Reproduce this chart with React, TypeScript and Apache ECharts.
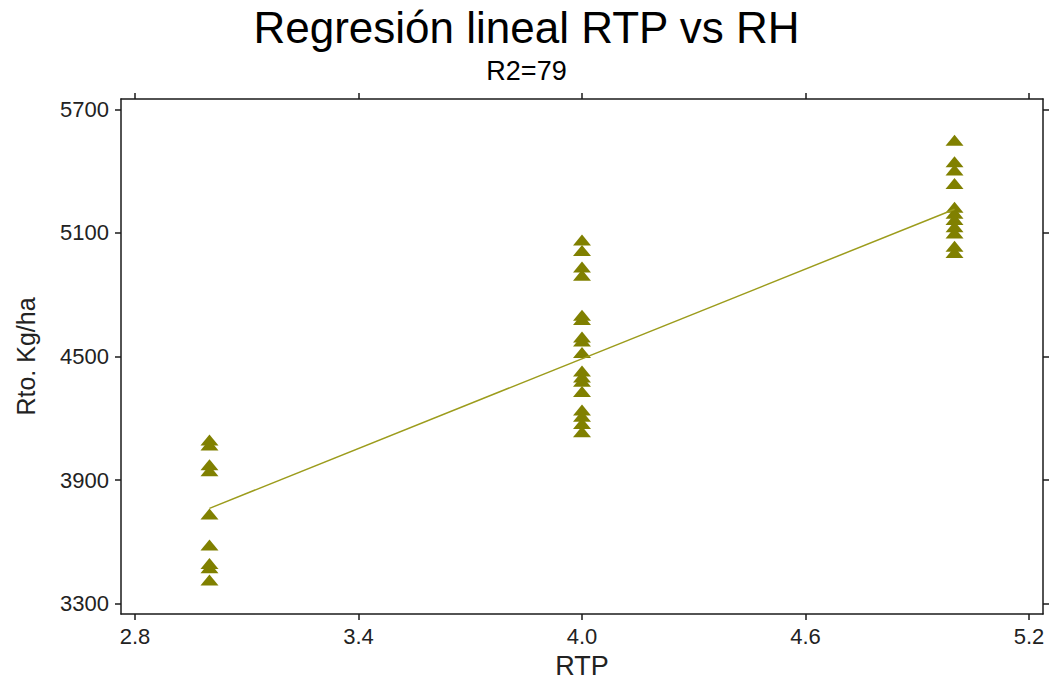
import React, { useEffect, useRef } from "react";
import * as echarts from "echarts";

const titleText = "Regresión lineal RTP vs RH";
const subtitleText = "R2=79";
const xName = "RTP";
const yName = "Rto. Kg/ha";

const xTicks = [2.8, 3.4, 4.0, 4.6, 5.2];
const yTicks = [3300, 3900, 4500, 5100, 5700];

// observed yields per RTP level
const rtpLevels = [3, 4, 5];
const yieldAt3 = [4095, 4070, 3975, 3945, 3735, 3585, 3495, 3475, 3415];
const yieldAt4 = [5065, 5015, 4935, 4895, 4700, 4680, 4595, 4575, 4520, 4430, 4400, 4380, 4330, 4240, 4210, 4175, 4135];
const yieldAt5 = [5550, 5445, 5405, 5340, 5225, 5195, 5165, 5130, 5100, 5035, 5005];

// fitted regression line end points
const fitX = [3, 5];
const fitY = [3763, 5215];

const OLIVE = "#808000";
const AXIS = "#1a1a1a";
const FONT = "'Liberation Sans', Arial, sans-serif";

export default function App() {
  const ref = useRef<HTMLDivElement>(null);
  useEffect(() => {
    if (!ref.current) return;
    const chart = echarts.init(ref.current, undefined, { renderer: "svg" });
    const groups = [yieldAt3, yieldAt4, yieldAt5];
    const points: number[][] = [];
    groups.forEach((g, i) => g.forEach((v) => points.push([rtpLevels[i], v])));
    const fit = fitX.map((x, i) => [x, fitY[i]]);

    const axisLine = { show: true, lineStyle: { color: AXIS, width: 1.5 } };
    const tickStyle = { color: AXIS, width: 1.5 };

    chart.setOption({
      animation: false,
      backgroundColor: "#ffffff",
      title: [
        {
          text: titleText,
          left: "center",
          top: 0,
          textStyle: { fontFamily: FONT, fontSize: 44, fontWeight: "normal", color: "#000" },
        },
        {
          text: subtitleText,
          left: "center",
          top: 52,
          textStyle: { fontFamily: FONT, fontSize: 27, fontWeight: "normal", color: "#000" },
        },
      ],
      grid: {
        left: 121,
        right: 10,
        top: 99,
        bottom: 65,
        containLabel: false,
        outerBoundsMode: "none",
      },
      xAxis: [
        {
          type: "value",
          position: "bottom",
          min: 2.7625,
          max: 5.2375,
          name: xName,
          nameLocation: "middle",
          nameGap: 38,
          nameTextStyle: { fontFamily: FONT, fontSize: 27, color: "#222" },
          axisLine,
          axisTick: { show: true, length: 6, inside: false, lineStyle: tickStyle, customValues: xTicks },
          axisLabel: {
            show: true,
            customValues: xTicks,
            formatter: (v: number) => v.toFixed(1),
            fontFamily: FONT,
            fontSize: 22,
            color: "#222",
            margin: 11,
          },
          splitLine: { show: false },
        },
        {
          type: "value",
          position: "top",
          min: 2.7625,
          max: 5.2375,
          axisLine,
          axisTick: { show: true, length: 6, inside: false, lineStyle: tickStyle, customValues: xTicks },
          axisLabel: { show: false, customValues: xTicks },
          splitLine: { show: false },
        },
      ],
      yAxis: [
        {
          type: "value",
          position: "left",
          min: 3250,
          max: 5750,
          name: yName,
          nameLocation: "middle",
          nameGap: 83,
          nameTextStyle: { fontFamily: FONT, fontSize: 25, color: "#222" },
          axisLine,
          axisTick: { show: true, length: 6, inside: false, lineStyle: tickStyle, customValues: yTicks },
          axisLabel: {
            show: true,
            customValues: yTicks,
            formatter: (v: number) => String(v),
            fontFamily: FONT,
            fontSize: 22,
            color: "#222",
            margin: 12,
          },
          splitLine: { show: false },
        },
        {
          type: "value",
          position: "right",
          min: 3250,
          max: 5750,
          axisLine,
          axisTick: { show: true, length: 6, inside: false, lineStyle: tickStyle, customValues: yTicks },
          axisLabel: { show: false, customValues: yTicks },
          splitLine: { show: false },
        },
      ],
      series: [
        {
          type: "line",
          data: fit,
          xAxisIndex: 0,
          yAxisIndex: 0,
          symbol: "none",
          lineStyle: { color: "#9c9c1c", width: 1.5 },
          z: 3,
        },
        {
          type: "scatter",
          data: points,
          xAxisIndex: 0,
          yAxisIndex: 0,
          symbol: "triangle",
          symbolSize: [18, 11],
          itemStyle: { color: OLIVE, opacity: 1 },
          z: 2,
        },
      ],
    });
    return () => chart.dispose();
  }, []);
  return (
    <div
      ref={ref}
      style={{ position: "fixed", left: 0, top: 0, width: 1053, height: 679, background: "#fff" }}
    />
  );
}
